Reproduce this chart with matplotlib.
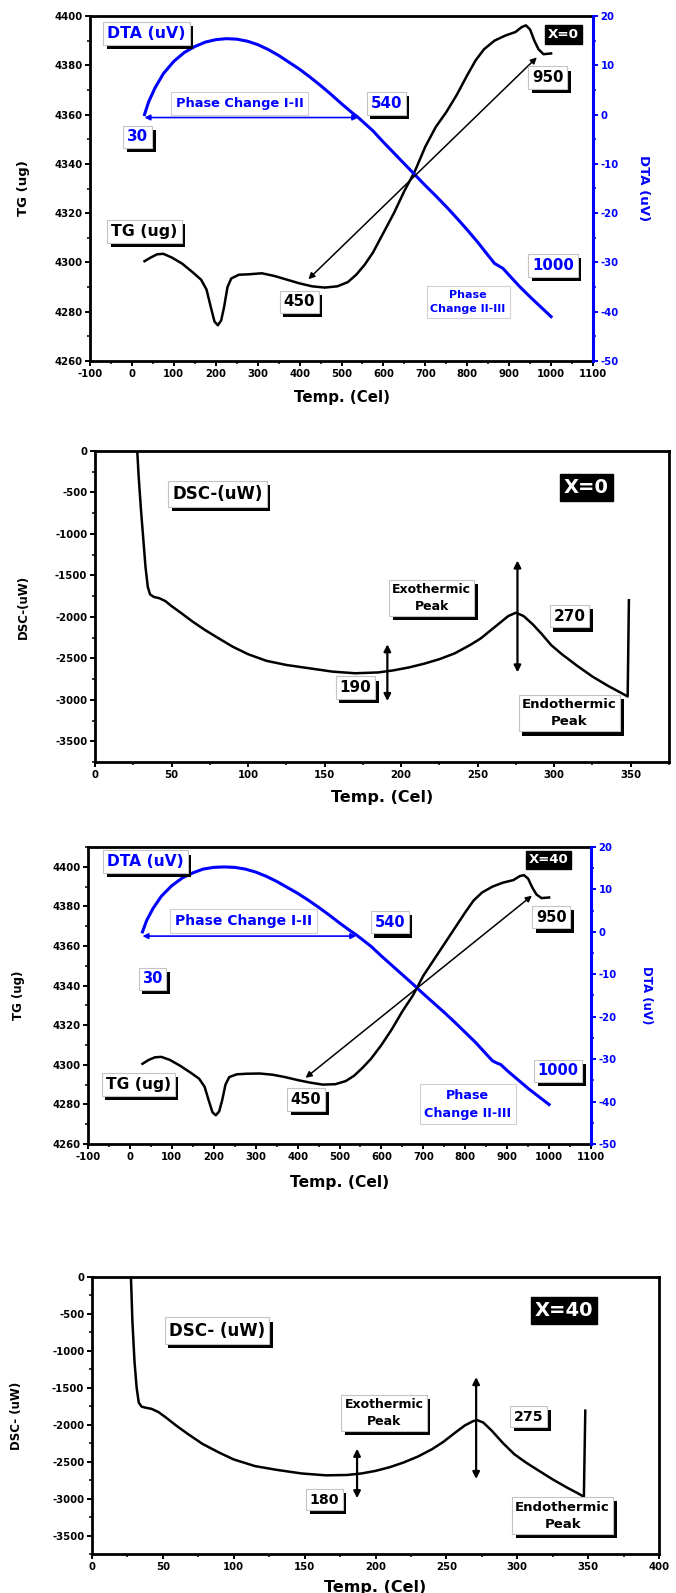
import matplotlib
matplotlib.use("Agg")
import matplotlib.pyplot as plt
import matplotlib.patheffects as pe
from matplotlib.patches import FancyArrowPatch
from matplotlib.ticker import MultipleLocator

plt.rcParams["font.family"] = ["DejaVu Sans"]
plt.rcParams["font.weight"] = "bold"
plt.rcParams["axes.labelweight"] = "bold"
plt.rcParams["axes.unicode_minus"] = False

# ---------------- TG / DTA, X = 0 ----------------
tg0_temp = [30, 45, 60, 75, 95, 120, 145, 165, 178, 188, 197, 205, 213, 220, 228, 237,
            255, 280, 310, 340, 370, 400, 430, 460, 490, 515, 535, 555, 575, 600, 625,
            650, 675, 700, 725, 750, 775, 800, 820, 840, 865, 890, 915, 930, 940, 950,
            960, 970, 982, 1000]
tg0_mass = [4300.5, 4302, 4303.3, 4303.5, 4302, 4299.5, 4296, 4293, 4289, 4282, 4276,
            4274.5, 4276.5, 4282, 4290, 4293.5, 4295, 4295.2, 4295.6, 4294.5, 4293,
            4291.5, 4290.3, 4289.8, 4290.3, 4292, 4295, 4299, 4304, 4312, 4320, 4329,
            4337, 4347, 4355, 4361, 4368, 4376, 4382, 4386.5, 4390, 4392, 4393.5,
            4395.5, 4396.2, 4394.5, 4390, 4386.5, 4384.5, 4384.8]
dta0_temp = [30, 40, 55, 75, 100, 125, 150, 175, 200, 225, 250, 275, 300, 325, 350, 375,
             400, 425, 450, 475, 500, 525, 540, 575, 600, 625, 650, 675, 700, 725, 750,
             775, 800, 825, 850, 865, 875, 885, 900, 925, 950, 975, 1000]
dta0_volt = [0, 2.6, 5.4, 8.3, 10.8, 12.6, 13.8, 14.7, 15.2, 15.4, 15.3, 14.9, 14.2,
             13.2, 12.0, 10.6, 9.2, 7.6, 5.9, 4.1, 2.2, 0.4, -0.6, -3.3, -5.6, -7.8,
             -10.0, -12.2, -14.4, -16.5, -18.7, -21.0, -23.4, -25.9, -28.6, -30.2,
             -30.7, -31.2, -32.6, -34.9, -37.0, -39.0, -41.0]

# ---------------- TG / DTA, X = 40 ----------------
tg40_temp = tg0_temp
tg40_mass = [4300.5, 4302.5, 4303.8, 4304, 4302.5, 4299.5, 4296, 4293, 4289, 4282, 4276,
             4274.5, 4276.5, 4282, 4290, 4293.8, 4295.2, 4295.5, 4295.6, 4295, 4293.8,
             4292.3, 4291, 4290, 4290.2, 4291.8, 4294.5, 4298.5, 4303, 4310, 4318, 4327,
             4335, 4345, 4353, 4361, 4369, 4377, 4383, 4387, 4390, 4392, 4393.3,
             4395.3, 4395.8, 4394, 4389.5, 4386, 4384.2, 4384.5]
dta40_temp = dta0_temp
dta40_volt = [0, 2.7, 5.5, 8.4, 10.9, 12.7, 13.9, 14.8, 15.2, 15.3, 15.2, 14.8, 14.1,
              13.1, 11.9, 10.5, 9.1, 7.5, 5.8, 4.0, 2.1, 0.3, -0.7, -3.4, -5.7, -7.9,
              -10.1, -12.3, -14.6, -16.8, -19.0, -21.3, -23.7, -26.1, -28.8, -30.4,
              -30.9, -31.3, -32.7, -34.8, -36.9, -38.8, -40.7]

# ---------------- DSC, X = 0 ----------------
dsc0_temp = [27.3, 28.5, 30, 31.5, 33, 34.5, 36, 38.5, 42, 46, 50, 56, 64, 72, 80, 90,
             100, 112, 125, 140, 155, 170, 185, 195, 205, 215, 225, 235, 245, 252, 258,
             264, 270, 275, 280, 286, 292, 298, 305, 315, 325, 335, 342, 348, 348.8]
dsc0_power = [100, -300, -700, -1050, -1400, -1640, -1730, -1760, -1775, -1810, -1870,
              -1950, -2060, -2160, -2250, -2360, -2450, -2530, -2580, -2620, -2660,
              -2680, -2670, -2645, -2610, -2565, -2510, -2440, -2340, -2260, -2170,
              -2080, -1990, -1950, -1990, -2090, -2210, -2340, -2450, -2590, -2720,
              -2830, -2900, -2960, -1800]

# ---------------- DSC, X = 40 ----------------
dsc40_temp = [27.3, 28.5, 30, 31.5, 33, 35, 38, 42, 47, 52, 60, 68, 78, 90, 100, 115,
              130, 148, 165, 180, 190, 200, 210, 220, 230, 240, 248, 256, 263, 269, 272,
              276, 282, 290, 298, 306, 315, 325, 335, 342, 347, 348]
dsc40_power = [100, -600, -1150, -1500, -1700, -1755, -1770, -1785, -1830, -1900,
               -2020, -2130, -2260, -2380, -2470, -2560, -2610, -2660, -2685, -2680,
               -2660, -2625, -2575, -2510, -2430, -2330, -2230, -2110, -2010, -1950,
               -1940, -1970, -2080, -2250, -2400, -2510, -2620, -2740, -2850, -2920,
               -2975, -1810]

BLUE = "#0000ff"
W, H = 676, 1593
fig = plt.figure(figsize=(W / 100, H / 100), dpi=100)


def rect(l, t, r, b):
    return [l / W, 1 - b / H, (r - l) / W, (b - t) / H]


def shadow_box(ax, x, y, text, color="k", size=11, transform=None, ls=1.2):
    t = ax.text(x, y, text, color=color, fontsize=size, ha="center", va="center",
                transform=transform or ax.transData, zorder=6, linespacing=ls,
                bbox=dict(boxstyle="square,pad=0.25", fc="white", ec="#c4c4c4", lw=0.8))
    t.get_bbox_patch().set_path_effects(
        [pe.SimplePatchShadow(offset=(2.6, -3.0), shadow_rgbFace="k", alpha=1.0),
         pe.Normal()])
    return t


def plain_box(ax, x, y, text, size, transform, ls=1.3):
    return ax.text(x, y, text, color=BLUE, fontsize=size, ha="center", va="center",
                   transform=transform, zorder=6, linespacing=ls,
                   bbox=dict(boxstyle="square,pad=0.35", fc="white", ec="#d0d0d0", lw=0.8))


def tag_box(ax, x, y, text, size, transform):
    return ax.text(x, y, text, color="white", fontsize=size, ha="center", va="center",
                   transform=transform, zorder=7,
                   bbox=dict(boxstyle="square,pad=0.2", fc="black", ec="black"))


def darrow(ax, p0, p1, color="k", lw=1.3, ms=9, transform=None):
    ax.add_patch(FancyArrowPatch(p0, p1, arrowstyle="<|-|>", color=color, lw=lw,
                                 mutation_scale=ms, shrinkA=0, shrinkB=0, zorder=5,
                                 transform=transform or ax.transData))


def style_axes(ax):
    for s in ax.spines.values():
        s.set_linewidth(2.0)
    ax.tick_params(which="major", direction="out", length=3.5, width=1.4, labelsize=7.3,
                   pad=2)
    ax.tick_params(which="minor", direction="out", length=2.2, width=1.1)
    ax.tick_params(top=False, right=False, which="both")


def tg_dta_panel(box, temp, mass, dtemp, volt, tg_top, ann):
    ax = fig.add_axes(box)
    style_axes(ax)
    ax.plot(temp, mass, color="k", lw=1.8, zorder=3)
    ax.set_xlim(-100, 1100)
    ax.set_ylim(4260, tg_top)
    ax.xaxis.set_major_locator(MultipleLocator(100))
    ax.xaxis.set_minor_locator(MultipleLocator(50))
    ax.yaxis.set_major_locator(MultipleLocator(20))
    ax.yaxis.set_minor_locator(MultipleLocator(10))
    ax.set_xlabel("Temp. (Cel)", fontsize=ann["xl_size"])
    ax.xaxis.set_label_coords(0.5, ann["xl_y"])
    ax.set_ylabel("TG (ug)", fontsize=ann["yl_size"])
    ax.yaxis.set_label_coords(ann["yl_x"], 0.5)

    tx = ax.twinx()
    tx.plot(dtemp, volt, color=BLUE, lw=2.2, zorder=3)
    tx.set_ylim(-50, 20)
    tx.yaxis.set_major_locator(MultipleLocator(10))
    tx.yaxis.set_minor_locator(MultipleLocator(5))
    for k in ("top", "left", "bottom"):
        tx.spines[k].set_visible(False)
    tx.spines["right"].set_color(BLUE)
    tx.spines["right"].set_linewidth(2.2)
    tx.tick_params(which="major", direction="out", length=3.5, width=1.4, labelsize=7.3,
                   colors=BLUE, pad=2)
    tx.tick_params(which="minor", direction="out", length=2.2, width=1.1, colors=BLUE)
    tx.set_ylabel("DTA (uV)", color=BLUE, fontsize=ann["yl_size"], rotation=270,
                  va="center")
    tx.yaxis.set_label_coords(ann["yr_x"], 0.5)

    # annotations positioned on the TG scale
    tg = ax.transData
    shadow_box(tx, *ann["dta_lbl"], "DTA (uV)", color=BLUE, size=ann["lbl_size"],
               transform=tg)
    shadow_box(tx, *ann["tg_lbl"], "TG (ug)", color="k", size=ann["lbl_size"],
               transform=tg)
    tag_box(tx, *ann["tag"], size=ann["tag_size"], transform=tg)
    plain_box(tx, *ann["pc1"], "Phase Change I-II", size=ann["pc1_size"], transform=tg)
    plain_box(tx, *ann["pc2"], "Phase\nChange II-III", size=ann["pc2_size"],
              transform=tg, ls=1.5)
    for key, txt, col in (("l30", "30", BLUE), ("l540", "540", BLUE),
                          ("l950", "950", "k"), ("l1000", "1000", BLUE),
                          ("l450", "450", "k")):
        shadow_box(tx, *ann[key], txt, color=col, size=ann["num_size"], transform=tg)
    darrow(tx, (30, ann["arrow_dta"]), (540, ann["arrow_dta"]), color=BLUE, lw=1.2,
           ms=8)
    p0, p1 = ann["tg_arrow"]
    darrow(tx, p0, p1, color="k", lw=1.1, ms=9, transform=tg)
    return ax, tx


def dsc_panel(box, temp, power, xmax, ylabel, ann):
    ax = fig.add_axes(box)
    style_axes(ax)
    ax.plot(temp, power, color="k", lw=1.8, zorder=3)
    ax.set_xlim(0, xmax)
    ax.set_ylim(-3750, 0)
    ax.xaxis.set_major_locator(MultipleLocator(50))
    ax.xaxis.set_minor_locator(MultipleLocator(25))
    ax.yaxis.set_major_locator(MultipleLocator(500))
    ax.yaxis.set_minor_locator(MultipleLocator(250))
    ax.set_xlabel("Temp. (Cel)", fontsize=11.5)
    ax.xaxis.set_label_coords(0.5, ann["xl_y"])
    ax.set_ylabel(ylabel, fontsize=8.5)
    ax.yaxis.set_label_coords(ann["yl_x"], 0.5)
    shadow_box(ax, *ann["lbl"], ann["lbl_txt"], size=12)
    tag_box(ax, *ann["tag"], size=14, transform=ax.transData)
    shadow_box(ax, *ann["exo"], "Exothermic\nPeak", size=9, ls=1.4)
    shadow_box(ax, *ann["endo"], "Endothermic\nPeak", size=9.5, ls=1.4)
    shadow_box(ax, *ann["peak"], ann["peak_txt"], size=ann["num_size"])
    shadow_box(ax, *ann["low"], ann["low_txt"], size=ann["num_size"])
    darrow(ax, ann["arrow_peak"][0], ann["arrow_peak"][1], lw=1.6, ms=10)
    darrow(ax, ann["arrow_low"][0], ann["arrow_low"][1], lw=1.6, ms=10)
    return ax


tg_dta_panel(rect(90, 16, 593, 361), tg0_temp, tg0_mass, dta0_temp, dta0_volt, 4400,
             dict(dta_lbl=(35, 4393), tg_lbl=(30, 4312.5), tag=(1030, 4392.5, "X=0"),
                  tag_size=9.7, pc1=(257, 4364.5), pc1_size=9.4, pc2=(802, 4284),
                  pc2_size=8, lbl_size=11.3, num_size=10.8,
                  l30=(14, 4351), l540=(607, 4364.5), l950=(992, 4375),
                  l1000=(1005, 4298.8), l450=(399, 4284), arrow_dta=-0.6,
                  tg_arrow=((421, 4293.2), (966, 4383.2)),
                  xl_size=10.8, xl_y=-0.085, yl_size=9.5, yl_x=-0.119, yr_x=1.10))

dsc_panel(rect(95, 451, 669, 762), dsc0_temp, dsc0_power, 375, "DSC-(uW)",
          dict(lbl=(80, -515), lbl_txt="DSC-(uW)", tag=(321, -440, "X=0"),
               exo=(220, -1775), endo=(310, -3160), peak=(310, -1990), peak_txt="270",
               low=(170, -2855), low_txt="190", num_size=11,
               arrow_peak=((276, -2670), (276, -1320)),
               arrow_low=((191, -3015), (191, -2330)),
               xl_y=-0.09, yl_x=-0.113))

tg_dta_panel(rect(88, 847, 591, 1144), tg40_temp, tg40_mass, dta40_temp, dta40_volt,
             4410,
             dict(dta_lbl=(37, 4402.5), tg_lbl=(20, 4290), tag=(998, 4403.5, "X=40"),
                  tag_size=9.5, pc1=(270, 4372.5), pc1_size=10, pc2=(806, 4280),
                  pc2_size=9.2, lbl_size=11.2, num_size=10.5,
                  l30=(54, 4343.5), l540=(620, 4372), l950=(1005, 4374.5),
                  l1000=(1022, 4297), l450=(420, 4282.5), arrow_dta=-1.0,
                  tg_arrow=((419, 4293.4), (959, 4385.4)),
                  xl_size=11.2, xl_y=-0.104, yl_size=8.5, yl_x=-0.125, yr_x=1.111))

dsc_panel(rect(92, 1277, 659, 1554), dsc40_temp, dsc40_power, 400, "DSC- (uW)",
          dict(lbl=(88, -725), lbl_txt="DSC- (uW)", tag=(333, -452, "X=40"),
               exo=(206, -1840), endo=(332, -3230), peak=(308, -1890), peak_txt="275",
               low=(164, -3015), low_txt="180", num_size=10.2,
               arrow_peak=((271, -2735), (271, -1355)),
               arrow_low=((187, -2995), (187, -2325)),
               xl_y=-0.094, yl_x=-0.122))

fig.savefig("out.png", dpi=100, facecolor="white")
